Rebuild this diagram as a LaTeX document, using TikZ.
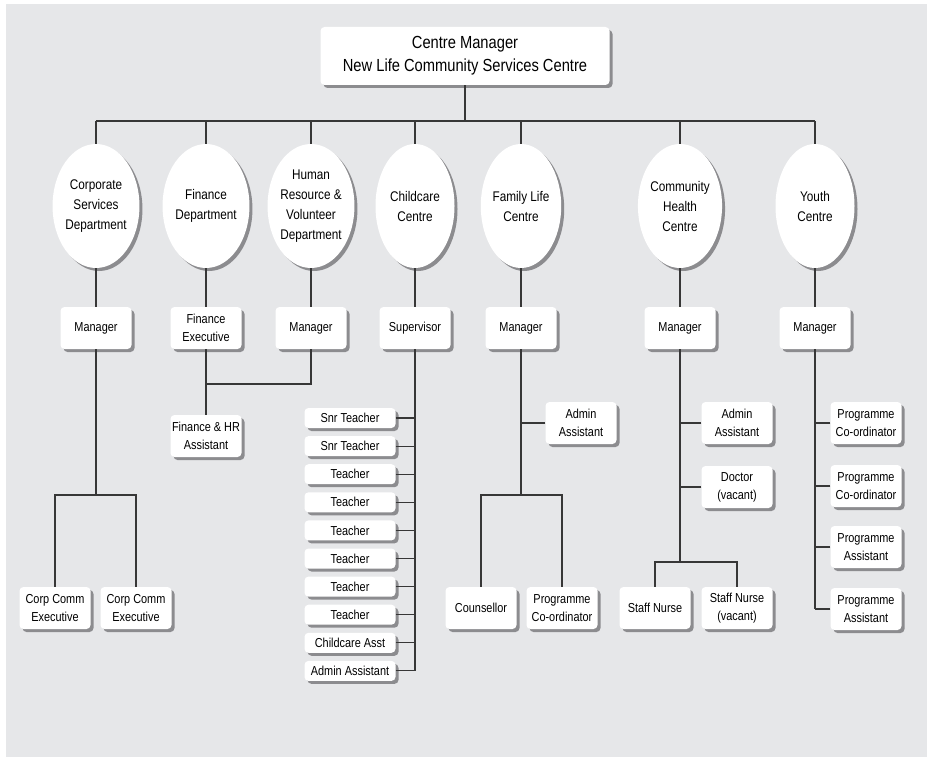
\documentclass[tikz,border=0pt]{standalone}
\usepackage{fontspec}
\setmainfont{Liberation Sans}[FakeStretch=0.84]
\usetikzlibrary{shapes.geometric, shadows}
\definecolor{panel}{RGB}{230,231,233}
\definecolor{wire}{RGB}{55,55,55}
\definecolor{shade}{RGB}{140,140,143}

\tikzset{
  lift/.style={drop shadow={shadow xshift=3pt, shadow yshift=-3pt, fill=shade, opacity=1}},
  unit/.style={ellipse, fill=white, lift, minimum width=79pt, minimum height=124pt,
    inner sep=0pt, align=center, font=\fontsize{14}{20}\selectfont},
  post/.style={rectangle, rounded corners=4pt, fill=white, lift, minimum width=71pt,
    minimum height=42pt, inner sep=1pt, align=center, font=\fontsize{13}{18}\selectfont},
  slot/.style={post, minimum width=91pt, minimum height=20pt},
  head/.style={post, minimum width=289pt, minimum height=58pt, font=\fontsize{17.5}{23}\selectfont},
  link/.style={draw=wire, line width=1.1pt}
}

\begin{document}
\begin{tikzpicture}[x=1pt, y=-1pt]
  \useasboundingbox (0,0) rectangle (927,757);
  \fill[panel] (6,4) rectangle (927,757);

  % Top
  \node[head] (ceo) at (465,56) {Centre Manager\\New Life Community Services Centre};

  % Departments
  \node[unit] (corp)   at (96,206)  {Corporate\\Services\\Department};
  \node[unit] (fin)    at (206,206) {Finance\\Department};
  \node[unit] (hr)     at (311,206) {Human\\Resource \&\\Volunteer\\Department};
  \node[unit] (child)  at (415,206) {Childcare\\Centre};
  \node[unit] (family) at (521,206) {Family Life\\Centre};
  \node[unit] (health) at (680,206) {Community\\Health\\Centre};
  \node[unit] (youth)  at (815,206) {Youth\\Centre};

  % Heads of departments
  \node[post] (corpm)   at (96,328)  {Manager};
  \node[post] (finx)    at (206,328) {Finance\\Executive};
  \node[post] (hrm)     at (311,328) {Manager};
  \node[post] (sup)     at (415,328) {Supervisor};
  \node[post] (familym) at (521,328) {Manager};
  \node[post] (healthm) at (680,328) {Manager};
  \node[post] (youthm)  at (815,328) {Manager};

  % Corporate services
  \node[post] (cc1) at (55,608)  {Corp Comm\\Executive};
  \node[post] (cc2) at (136,608) {Corp Comm\\Executive};

  % Finance and HR
  \node[post] (finhr) at (206,436) {Finance \& HR\\Assistant};

  % Childcare
  \foreach \job [count=\i] in {Snr Teacher, Snr Teacher, Teacher, Teacher, Teacher,
      Teacher, Teacher, Teacher, Childcare Asst, Admin Assistant}
    \node[slot] (t\i) at (350,{418+28.1*(\i-1)}) {\job};

  % Family life
  \node[post] (fadm)  at (581,423) {Admin\\Assistant};
  \node[post] (couns) at (481,608) {Counsellor};
  \node[post] (fpc)   at (562,608) {Programme\\Co-ordinator};

  % Community health
  \node[post] (hadm) at (737,423) {Admin\\Assistant};
  \node[post] (doc)  at (737,487) {Doctor\\(vacant)};
  \node[post] (sn1)  at (655,608) {Staff Nurse};
  \node[post] (sn2)  at (737,608) {Staff Nurse\\(vacant)};

  % Youth
  \node[post] (y1) at (866,423) {Programme\\Co-ordinator};
  \node[post] (y2) at (866,486) {Programme\\Co-ordinator};
  \node[post] (y3) at (866,547) {Programme\\Assistant};
  \node[post] (y4) at (866,609) {Programme\\Assistant};

  % Connectors
  \coordinate (bus) at (465,121);
  \draw[link] (ceo) -- (bus);
  \draw[link] (corp.north |- bus) -- (youth.north |- bus);
  \foreach \d in {corp, fin, hr, child, family, health, youth}
    \draw[link] (\d.north) -- (\d.north |- bus);
  \foreach \d/\m in {corp/corpm, fin/finx, hr/hrm, child/sup, family/familym,
      health/healthm, youth/youthm}
    \draw[link] (\d) -- (\m);

  \coordinate (corpj) at (96,495);
  \draw[link] (corpm) -- (corpj);
  \draw[link] (cc1.north) |- (corpj) -| (cc2.north);

  \coordinate (finj) at (206,384);
  \draw[link] (finx) -- (finj) -| (hrm.south);
  \draw[link] (finj) -- (finhr);

  \draw[link] (sup) -- (sup.south |- t10.east);
  \foreach \i in {1,...,10}
    \draw[link] (t\i.east) -- (t\i.east -| sup.south);

  \coordinate (famj) at (521,495);
  \draw[link] (familym) -- (famj);
  \draw[link] (fadm.west) -- (fadm.west -| famj);
  \draw[link] (couns.north) |- (famj) -| (fpc.north);

  \coordinate (healthj) at (680,562);
  \draw[link] (healthm) -- (healthj);
  \draw[link] (hadm.west) -- (hadm.west -| healthj);
  \draw[link] (doc.west) -- (doc.west -| healthj);
  \draw[link] (sn1.north) |- (healthj) -| (sn2.north);

  \draw[link] (youthm) -- (youthm.south |- y4.west);
  \foreach \i in {1,...,4}
    \draw[link] (y\i.west) -- (y\i.west -| youthm.south);
\end{tikzpicture}
\end{document}
